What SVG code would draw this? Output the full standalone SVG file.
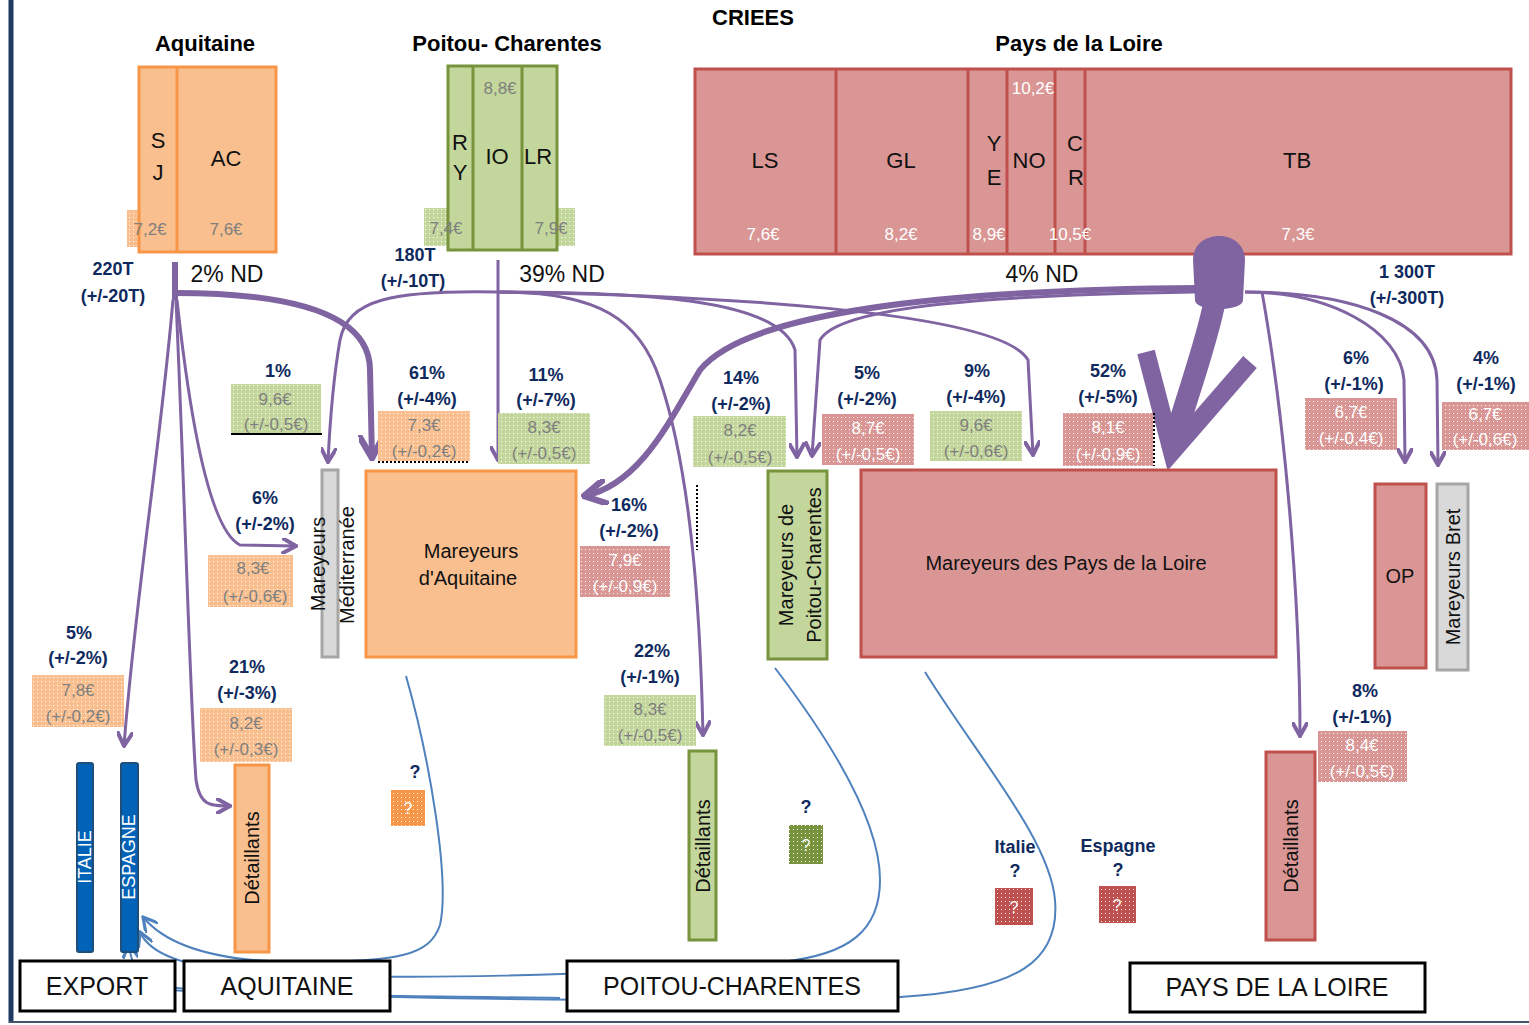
<svg xmlns="http://www.w3.org/2000/svg" width="1529" height="1025" viewBox="0 0 1529 1025">
<defs>
<style>
text{font-family:"Liberation Sans","DejaVu Sans",sans-serif}
.h{font-size:22px;font-weight:bold;fill:#000;text-anchor:middle}
.lbl{font-size:22px;fill:#111;text-anchor:middle}
.pw{font-size:17px;fill:#fff;text-anchor:middle}
.pg{font-size:17px;fill:#7f7f7f;text-anchor:middle}
.pct{font-size:18px;font-weight:bold;fill:#0f2a5e;text-anchor:middle}
.nd{font-size:23px;fill:#111;text-anchor:middle}
.nt{font-size:20px;fill:#111;text-anchor:middle}
.bot{font-size:25px;fill:#111;text-anchor:middle}
.or{fill:#f9bf8f;stroke:#f79646;stroke-width:3}
.gr{fill:#c3d69b;stroke:#77933c;stroke-width:3}
.rd{fill:#d99694;stroke:#c0504d;stroke-width:3}
.gy{fill:#d9d9d9;stroke:#a6a6a6;stroke-width:3}
.bl{fill:#0063b8;stroke:#1f4e79;stroke-width:2}
.bx{fill:#fff;stroke:#000;stroke-width:3}
.pf{fill:none;stroke:#8064a2;stroke-width:3}
.pt{fill:none;stroke:#8064a2;stroke-width:6}
.bf{fill:none;stroke:#4f81bd;stroke-width:2}
</style>
<pattern id="dOr" width="4" height="4" patternUnits="userSpaceOnUse"><rect width="4" height="4" fill="#f9bf8f"/><rect x="1" y="1" width="1" height="1" fill="#fff"/></pattern>
<pattern id="dGr" width="4" height="4" patternUnits="userSpaceOnUse"><rect width="4" height="4" fill="#c3d69b"/><rect x="1" y="1" width="1" height="1" fill="#fff"/></pattern>
<pattern id="dRd" width="4" height="4" patternUnits="userSpaceOnUse"><rect width="4" height="4" fill="#d99694"/><rect x="1" y="1" width="1" height="1" fill="#fff"/></pattern>
<pattern id="qOr" width="4" height="4" patternUnits="userSpaceOnUse"><rect width="4" height="4" fill="#f79646"/><rect x="1" y="1" width="1" height="1" fill="#fff"/></pattern>
<pattern id="qGr" width="4" height="4" patternUnits="userSpaceOnUse"><rect width="4" height="4" fill="#77933c"/><rect x="1" y="1" width="1" height="1" fill="#fff"/></pattern>
<pattern id="qRd" width="4" height="4" patternUnits="userSpaceOnUse"><rect width="4" height="4" fill="#c0504d"/><rect x="1" y="1" width="1" height="1" fill="#fff"/></pattern>
<marker id="ap" viewBox="0 0 10 10" refX="9" refY="5" markerWidth="16" markerHeight="16" markerUnits="userSpaceOnUse" orient="auto"><path d="M0,0 L9,5 L0,10" fill="none" stroke="#8064a2" stroke-width="2.5"/></marker>
<marker id="apT" viewBox="0 0 10 10" refX="9" refY="5" markerWidth="26" markerHeight="26" markerUnits="userSpaceOnUse" orient="auto"><path d="M0,0 L9,5 L0,10" fill="none" stroke="#8064a2" stroke-width="2.5"/></marker>
<marker id="ab" viewBox="0 0 10 10" refX="9" refY="5" markerWidth="16" markerHeight="16" markerUnits="userSpaceOnUse" orient="auto"><path d="M0,0 L9,5 L0,10" fill="none" stroke="#4f81bd" stroke-width="2"/></marker>
</defs>
<rect width="1529" height="1025" fill="#fff"/>
<line x1="11" y1="0" x2="11" y2="1023" stroke="#1f3a60" stroke-width="5"/>
<line x1="9" y1="1022" x2="1529" y2="1022" stroke="#44546a" stroke-width="2"/>

<text class="h" x="753" y="25">CRIEES</text>

<g id="criee-aquitaine">
<text class="h" x="205" y="51">Aquitaine</text>
<rect x="127" y="210" width="14" height="37" fill="url(#dOr)"/>
<rect class="or" x="139" y="67" width="137" height="185"/>
<line x1="177" y1="67" x2="177" y2="252" stroke="#f79646" stroke-width="3"/>
<text class="lbl" x="158" y="148">S</text><text class="lbl" x="158" y="180">J</text>
<text class="lbl" x="226" y="166">AC</text>
<text class="pg" x="150" y="235">7,2€</text>
<text class="pg" x="226" y="235">7,6€</text>
</g>

<g id="criee-poitou">
<text class="h" x="507" y="51">Poitou- Charentes</text>
<rect x="424" y="208" width="26" height="38" fill="url(#dGr)"/>
<rect x="555" y="208" width="20" height="38" fill="url(#dGr)"/>
<rect class="gr" x="448" y="66" width="109" height="184"/>
<line x1="473" y1="66" x2="473" y2="250" stroke="#77933c" stroke-width="3"/>
<line x1="522" y1="66" x2="522" y2="250" stroke="#77933c" stroke-width="3"/>
<text class="lbl" x="460" y="150">R</text><text class="lbl" x="460" y="180">Y</text>
<text class="lbl" x="497" y="164">IO</text>
<text class="lbl" x="538" y="164">LR</text>
<text class="pg" x="500" y="94">8,8€</text>
<text class="pg" x="446" y="234">7,4€</text>
<text class="pg" x="551" y="234">7,9€</text>
</g>

<g id="criee-pdl">
<text class="h" x="1079" y="51">Pays de la Loire</text>
<rect class="rd" x="695" y="69" width="816" height="185"/>
<g stroke="#c0504d" stroke-width="3">
<line x1="836" y1="69" x2="836" y2="254"/><line x1="968" y1="69" x2="968" y2="254"/>
<line x1="1007" y1="69" x2="1007" y2="254"/><line x1="1055" y1="69" x2="1055" y2="254"/>
<line x1="1085" y1="69" x2="1085" y2="254"/>
</g>
<text class="lbl" x="765" y="168">LS</text>
<text class="lbl" x="901" y="168">GL</text>
<text class="lbl" x="994" y="151">Y</text><text class="lbl" x="994" y="185">E</text>
<text class="lbl" x="1029" y="168">NO</text>
<text class="lbl" x="1075" y="151">C</text><text class="lbl" x="1076" y="185">R</text>
<text class="lbl" x="1297" y="168">TB</text>
<text class="pw" x="763" y="240">7,6€</text>
<text class="pw" x="901" y="240">8,2€</text>
<text class="pw" x="989" y="240">8,9€</text>
<text class="pw" x="1033" y="94">10,2€</text>
<text class="pw" x="1070" y="240">10,5€</text>
<text class="pw" x="1298" y="240">7,3€</text>
</g>

<g id="totals">
<text class="pct" x="113" y="275">220T</text><text class="pct" x="113" y="302">(+/-20T)</text>
<text class="nd" x="227" y="282">2% ND</text>
<text class="pct" x="415" y="261">180T</text><text class="pct" x="413" y="287">(+/-10T)</text>
<text class="nd" x="562" y="282">39% ND</text>
<text class="nd" x="1042" y="282">4% ND</text>
<text class="pct" x="1407" y="278">1 300T</text><text class="pct" x="1407" y="304">(+/-300T)</text>
</g>

<g id="connectors">
<!-- Aquitaine -->
<path class="pt" d="M175,262 L175,300"/>
<path class="pt" d="M175,293 C280,293 370,310 370,370 L372,458" marker-end="url(#apT)"/>
<path class="pf" d="M173,300 C160,450 135,600 124,746" marker-end="url(#ap)"/>
<path class="pf" d="M176,300 C185,500 190,700 196,780 C200,806 210,806 230,806" marker-end="url(#ap)"/>
<path class="pf" d="M177,300 C190,420 210,530 240,545 L296,546" marker-end="url(#ap)"/>
<!-- Poitou -->
<path class="pf" stroke-width="4" d="M498,260 L498,460" marker-end="url(#ap)"/>
<path class="pf" d="M498,292 C390,290 348,300 340,340 C333,380 330,420 328,462" marker-end="url(#ap)"/>
<path class="pf" d="M498,292 C600,292 640,320 660,380 C690,470 700,600 703,735" marker-end="url(#ap)"/>
<path class="pf" d="M498,292 C650,292 780,300 795,350 L797,457" marker-end="url(#ap)"/>
<path class="pf" d="M498,292 C700,295 1000,310 1028,360 L1033,455" marker-end="url(#ap)"/>
<!-- Pays de la Loire -->
<path class="pt" d="M1200,288 C900,290 740,320 700,370 C670,420 640,485 584,496" marker-end="url(#apT)"/>
<path class="pf" d="M1195,292 C1000,295 840,305 820,340 L812,456" marker-end="url(#ap)"/>
<path class="pf" stroke-width="4" d="M1245,292 C1330,292 1400,330 1404,380 L1405,462" marker-end="url(#ap)"/>
<path class="pf" d="M1245,292 C1350,292 1435,320 1437,380 L1438,465" marker-end="url(#ap)"/>
<path class="pf" d="M1262,292 C1285,420 1300,600 1300,736" marker-end="url(#ap)"/>
<path d="M1193,260 C1193,228 1245,228 1245,260 L1243,300 C1243,312 1195,312 1195,300 Z" fill="#8064a2"/>
<path d="M1215,300 C1205,350 1185,400 1172,450" fill="none" stroke="#8064a2" stroke-width="22"/>
<polyline points="1146,352 1172,452 1250,362" fill="none" stroke="#8064a2" stroke-width="18" stroke-linejoin="miter"/>
<!-- export flows -->
<path class="bf" d="M406,676 C430,760 450,880 440,925 C430,955 400,962 300,962 C230,962 170,950 143,917" marker-end="url(#ab)"/>
<path class="bf" stroke-width="1.5" d="M775,668 C830,740 880,820 880,880 C880,930 850,955 780,962 C600,975 400,982 250,972 C190,968 150,955 140,932" marker-end="url(#ab)"/>
<path class="bf" stroke-width="2.5" d="M925,672 C980,760 1050,840 1055,900 C1060,960 1020,990 900,997 C700,1003 400,1000 200,990 C140,985 110,978 85,966" marker-end="url(#ab)"/>
<path class="bf" d="M560,998 C400,996 250,995 170,990 C140,988 132,970 129,944" marker-end="url(#ab)"/>
<line x1="697" y1="485" x2="697" y2="550" stroke="#000" stroke-width="2" stroke-dasharray="2,2"/>
</g>

<g id="labels">
<text class="pct" x="278" y="377">1%</text>
<rect x="231" y="384" width="90" height="50" fill="url(#dGr)"/>
<line x1="231" y1="434" x2="322" y2="434" stroke="#000" stroke-width="2"/>
<text class="pg" x="275" y="405">9,6€</text><text class="pg" x="276" y="430">(+/-0,5€)</text>

<text class="pct" x="427" y="379">61%</text><text class="pct" x="427" y="405">(+/-4%)</text>
<rect x="378" y="411" width="92" height="50" fill="url(#dOr)"/>
<line x1="378" y1="462" x2="470" y2="462" stroke="#000" stroke-width="2" stroke-dasharray="2,2"/>
<text class="pg" x="424" y="431">7,3€</text><text class="pg" x="424" y="457">(+/-0,2€)</text>

<text class="pct" x="546" y="381">11%</text><text class="pct" x="546" y="406">(+/-7%)</text>
<rect x="498" y="413" width="92" height="51" fill="url(#dGr)"/>
<text class="pg" x="544" y="433">8,3€</text><text class="pg" x="544" y="459">(+/-0,5€)</text>

<text class="pct" x="265" y="504">6%</text><text class="pct" x="265" y="530">(+/-2%)</text>
<rect x="208" y="555" width="85" height="52" fill="url(#dOr)"/>
<text class="pg" x="253" y="574">8,3€</text><text class="pg" x="255" y="602">(+/-0,6€)</text>

<text class="pct" x="79" y="639">5%</text><text class="pct" x="78" y="664">(+/-2%)</text>
<rect x="32" y="675" width="92" height="52" fill="url(#dOr)"/>
<text class="pg" x="78" y="696">7,8€</text><text class="pg" x="78" y="722">(+/-0,2€)</text>

<text class="pct" x="247" y="673">21%</text><text class="pct" x="247" y="699">(+/-3%)</text>
<rect x="200" y="708" width="92" height="54" fill="url(#dOr)"/>
<text class="pg" x="246" y="729">8,2€</text><text class="pg" x="246" y="755">(+/-0,3€)</text>

<text class="pct" x="741" y="384">14%</text><text class="pct" x="741" y="410">(+/-2%)</text>
<rect x="693" y="416" width="93" height="51" fill="url(#dGr)"/>
<text class="pg" x="740" y="436">8,2€</text><text class="pg" x="740" y="463">(+/-0,5€)</text>

<text class="pct" x="629" y="511">16%</text><text class="pct" x="629" y="537">(+/-2%)</text>
<rect x="580" y="546" width="90" height="51" fill="url(#dRd)"/>
<text class="pw" x="625" y="566">7,9€</text><text class="pw" x="625" y="592">(+/-0,9€)</text>

<text class="pct" x="867" y="379">5%</text><text class="pct" x="867" y="405">(+/-2%)</text>
<rect x="822" y="414" width="92" height="51" fill="url(#dRd)"/>
<text class="pw" x="868" y="434">8,7€</text><text class="pw" x="868" y="460">(+/-0,5€)</text>

<text class="pct" x="977" y="377">9%</text><text class="pct" x="976" y="403">(+/-4%)</text>
<rect x="930" y="411" width="92" height="50" fill="url(#dGr)"/>
<text class="pg" x="976" y="431">9,6€</text><text class="pg" x="976" y="457">(+/-0,6€)</text>

<text class="pct" x="1108" y="377">52%</text><text class="pct" x="1108" y="403">(+/-5%)</text>
<rect x="1063" y="413" width="90" height="53" fill="url(#dRd)"/>
<line x1="1154" y1="413" x2="1154" y2="466" stroke="#000" stroke-width="2" stroke-dasharray="2,2"/>
<text class="pw" x="1108" y="433">8,1€</text><text class="pw" x="1108" y="460">(+/-0,9€)</text>

<text class="pct" x="1356" y="364">6%</text><text class="pct" x="1354" y="390">(+/-1%)</text>
<rect x="1305" y="398" width="92" height="52" fill="url(#dRd)"/>
<text class="pw" x="1351" y="418">6,7€</text><text class="pw" x="1351" y="444">(+/-0,4€)</text>

<text class="pct" x="1486" y="364">4%</text><text class="pct" x="1486" y="390">(+/-1%)</text>
<rect x="1442" y="402" width="87" height="48" fill="url(#dRd)"/>
<text class="pw" x="1485" y="420">6,7€</text><text class="pw" x="1485" y="445">(+/-0,6€)</text>

<text class="pct" x="652" y="657">22%</text><text class="pct" x="650" y="683">(+/-1%)</text>
<rect x="604" y="695" width="92" height="51" fill="url(#dGr)"/>
<text class="pg" x="650" y="715">8,3€</text><text class="pg" x="650" y="741">(+/-0,5€)</text>

<text class="pct" x="1365" y="697">8%</text><text class="pct" x="1362" y="723">(+/-1%)</text>
<rect x="1318" y="731" width="89" height="51" fill="url(#dRd)"/>
<text class="pw" x="1362" y="751">8,4€</text><text class="pw" x="1362" y="777">(+/-0,5€)</text>
</g>

<g id="mareyeurs-mediterranee">
<rect class="gy" x="322" y="470" width="16" height="187"/>
<text class="nt" transform="rotate(-90 318 564)" x="318" y="571">Mareyeurs</text>
<text class="nt" transform="rotate(-90 347 565)" x="347" y="572">Méditerranée</text>
</g>
<g id="mareyeurs-aquitaine">
<rect class="or" x="366" y="471" width="210" height="186"/>
<text class="nt" x="471" y="558">Mareyeurs</text>
<text class="nt" x="468" y="585">d'Aquitaine</text>
</g>
<g id="mareyeurs-poitou">
<rect class="gr" x="768" y="471" width="59" height="188"/>
<text class="nt" transform="rotate(-90 786 565)" x="786" y="572">Mareyeurs de</text>
<text class="nt" transform="rotate(-90 814 565)" x="814" y="572">Poitou-Charentes</text>
</g>
<g id="mareyeurs-pdl">
<rect class="rd" x="861" y="470" width="415" height="187"/>
<text class="nt" x="1066" y="570">Mareyeurs des Pays de la Loire</text>
</g>
<g id="op">
<rect class="rd" x="1375" y="484" width="51" height="184"/>
<text class="nt" x="1400" y="583">OP</text>
</g>
<g id="mareyeurs-bret">
<rect class="gy" x="1437" y="484" width="31" height="186"/>
<text class="nt" transform="rotate(-90 1453 577)" x="1453" y="584">Mareyeurs Bret</text>
</g>
<g id="italie">
<rect class="bl" x="77" y="763" width="16" height="189" rx="2"/>
<text transform="rotate(-90 85 857)" x="85" y="863" font-size="18" fill="#fff" text-anchor="middle">ITALIE</text>
</g>
<g id="espagne">
<rect class="bl" x="121" y="763" width="17" height="189" rx="2"/>
<text transform="rotate(-90 129 857)" x="129" y="863" font-size="18" fill="#fff" text-anchor="middle">ESPAGNE</text>
</g>
<g id="detaillants-aquitaine">
<rect class="or" x="235" y="765" width="34" height="187"/>
<text class="nt" transform="rotate(-90 252 858)" x="252" y="865">Détaillants</text>
</g>
<g id="detaillants-poitou">
<rect class="gr" x="689" y="751" width="27" height="189"/>
<text class="nt" transform="rotate(-90 703 846)" x="703" y="853">Détaillants</text>
</g>
<g id="detaillants-pdl">
<rect class="rd" x="1266" y="752" width="49" height="188"/>
<text class="nt" transform="rotate(-90 1291 846)" x="1291" y="853">Détaillants</text>
</g>

<g id="q-aquitaine">
<text class="pct" x="415" y="778" font-size="14">?</text>
<rect x="391" y="790" width="34" height="36" fill="url(#qOr)"/>
<text x="408" y="814" font-size="16" fill="#fff" text-anchor="middle">?</text>
</g>
<g id="q-poitou">
<text class="pct" x="806" y="813" font-size="14">?</text>
<rect x="789" y="825" width="34" height="39" fill="url(#qGr)"/>
<text x="806" y="851" font-size="16" fill="#fff" text-anchor="middle">?</text>
</g>
<g id="q-italie">
<text class="pct" x="1015" y="853">Italie</text>
<text class="pct" x="1015" y="877" font-size="14">?</text>
<rect x="995" y="888" width="38" height="37" fill="url(#qRd)"/>
<text x="1014" y="913" font-size="16" fill="#fff" text-anchor="middle">?</text>
</g>
<g id="q-espagne">
<text class="pct" x="1118" y="852">Espagne</text>
<text class="pct" x="1118" y="876" font-size="14">?</text>
<rect x="1099" y="886" width="37" height="37" fill="url(#qRd)"/>
<text x="1117" y="911" font-size="16" fill="#fff" text-anchor="middle">?</text>
</g>

<g id="region-export"><rect class="bx" x="20" y="961" width="155" height="50" fill="none"/><text class="bot" x="97" y="995">EXPORT</text></g>
<g id="region-aquitaine"><rect class="bx" x="184" y="961" width="206" height="50" fill="none"/><text class="bot" x="287" y="995">AQUITAINE</text></g>
<g id="region-poitou"><rect class="bx" x="567" y="961" width="331" height="50" fill="none"/><text class="bot" x="732" y="995">POITOU-CHARENTES</text></g>
<g id="region-pdl"><rect class="bx" x="1130" y="963" width="295" height="49"/><text class="bot" x="1277" y="996">PAYS DE LA LOIRE</text></g>
</svg>
